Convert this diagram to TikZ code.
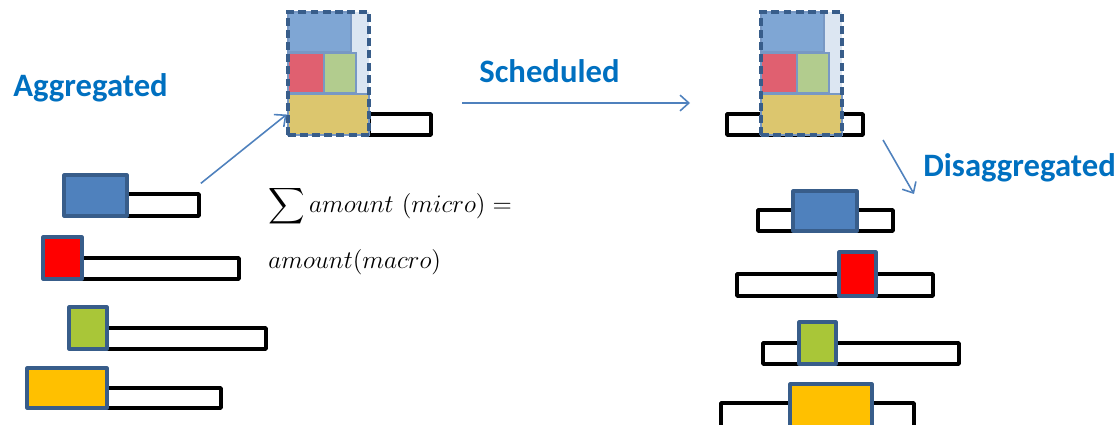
\documentclass[tikz,border=0pt]{standalone}
\usepackage{amsmath, amssymb, amsfonts}
\usepackage{fontspec}
\usepackage{tikz}
\usepackage{xcolor}
\usetikzlibrary{fit,arrows.meta}
\newfontfamily\labelfont{Carlito}

\definecolor{txtblue}{RGB}{0,112,192}
\definecolor{arrblue}{RGB}{79,129,189}
\definecolor{edgeblue}{RGB}{56,93,138}
\definecolor{boxblue}{RGB}{79,129,189}
\definecolor{boxred}{RGB}{255,0,0}
\definecolor{boxgreen}{RGB}{169,198,56}
\definecolor{boxyellow}{RGB}{255,192,0}
\definecolor{aggblue}{RGB}{127,166,212}
\definecolor{aggred}{RGB}{224,96,112}
\definecolor{agggreen}{RGB}{178,204,142}
\definecolor{aggyellow}{RGB}{220,198,110}
\definecolor{aggpale}{RGB}{220,230,242}
\definecolor{aggedge}{RGB}{120,152,196}

\tikzset{
  bar/.style={draw=black, fill=white, line width=2.1pt, line join=round, inner sep=0pt},
  item/.style={draw=edgeblue, line width=1.8pt, line join=round, inner sep=0pt},
  part/.style={draw=aggedge, line width=1.6pt, inner sep=0pt},
  blockline/.style={draw=edgeblue, line width=2pt, dash pattern=on 4.5pt off 2.4pt, inner sep=0pt},
  flow/.style={->, draw=arrblue, line width=0.9pt},
  phase/.style={font=\labelfont\bfseries\fontsize{18.6}{22}\selectfont, text=txtblue, anchor=base west, inner sep=0pt}
}

\begin{document}
\begin{tikzpicture}[x=0.02cm, y=-0.02cm, >={Straight Barb[length=5pt,width=9pt]}]
    \useasboundingbox (0,0) rectangle (1118,425);
    \clip (0,0) rectangle (1118,425);

    % Micro orders (left)
    \node[bar, fit={(127,194) (199,216)}] (bar1) {};
    \node[item, fill=boxblue, fit={(64,175) (127,216)}] (box1) {};
    \node[bar, fit={(82,258) (239,279)}] (bar2) {};
    \node[item, fill=boxred, fit={(43,237) (82,279)}] (box2) {};
    \node[bar, fit={(107,328) (266,349)}] (bar3) {};
    \node[item, fill=boxgreen, fit={(69,307) (107,349)}] (box3) {};
    \node[bar, fit={(107,388) (221,408)}] (bar4) {};
    \node[item, fill=boxyellow, fit={(27,368) (107,408)}] (box4) {};

    % Macro order (aggregated)
    \node[bar, fit={(369,114) (431,135)}] (aggbar) {};
    \node[fill=aggpale, inner sep=0pt, fit={(351,12) (369,94)}] (agg-pale) {};
    \node[part, fill=aggblue, fit={(288,12) (351,52)}] (agg-blue) {};
    \node[part, fill=aggred, fit={(288,53) (324,93)}] (agg-red) {};
    \node[part, fill=agggreen, fit={(324,53) (356,93)}] (agg-green) {};
    \node[part, fill=aggyellow, fit={(288,94) (369,135)}] (agg-yel) {};
    \node[blockline, fit={(288,12) (369,135)}] (agg) {};

    % Macro order (scheduled)
    \node[bar, fit={(727,114) (863,135)}] (schbar) {};
    \node[fill=aggpale, inner sep=0pt, fit={(824,12) (842,94)}] (sch-pale) {};
    \node[part, fill=aggblue, fit={(761,12) (824,52)}] (sch-blue) {};
    \node[part, fill=aggred, fit={(761,53) (797,93)}] (sch-red) {};
    \node[part, fill=agggreen, fit={(797,53) (829,93)}] (sch-green) {};
    \node[part, fill=aggyellow, fit={(761,94) (842,135)}] (sch-yel) {};
    \node[blockline, fit={(761,12) (842,135)}] (sch) {};

    % Micro orders (right)
    \node[bar, fit={(758,210) (893,231)}] (bar5) {};
    \node[item, fill=boxblue, fit={(793,191) (857,231)}] (box5) {};
    \node[bar, fit={(737,274) (933,296)}] (bar6) {};
    \node[item, fill=boxred, fit={(839,252) (876,296)}] (box6) {};
    \node[bar, fit={(763,343) (959,364)}] (bar7) {};
    \node[item, fill=boxgreen, fit={(799,322) (836,364)}] (box7) {};
    \node[bar, fit={(721,403) (914,428)}] (bar8) {};
    \node[item, fill=boxyellow, fit={(790,384) (872,432)}] (box8) {};

    % Arrows
    \coordinate (schfrom) at (462,103);
    \coordinate (schto) at (690,103);
    \coordinate (disfrom) at (883,140);
    \coordinate (disto) at (914,194);
    \draw[flow] ([yshift=5pt]bar1.north east) -- (agg-yel.west);
    \draw[flow] (schfrom) -- (schto);
    \draw[flow] (disfrom) -- (disto);

    % Labels
    \node[phase] (aggtxt) at (13,97) {Aggregated};
    \node[phase] (schtxt) at (479,83) {Scheduled};
    \node[phase] (distxt) at (923,177) {Disaggregated};
    \node[anchor=base west, inner sep=0pt, font=\Large] (sumtop) at (268,213) {$\displaystyle\sum amount\ (micro) =$};
    \node[anchor=base west, inner sep=0pt, font=\Large] (sumbot) at (268,269) {$amount(macro)$};
\end{tikzpicture}
\end{document}
